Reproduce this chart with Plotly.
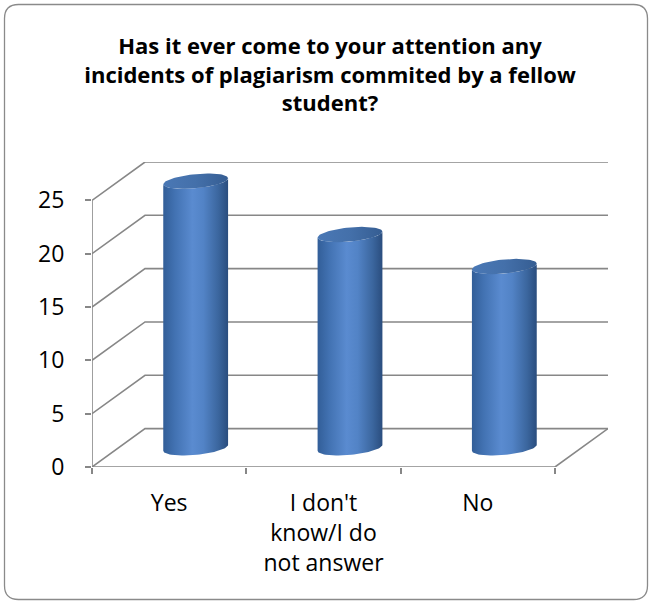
import numpy as np
import plotly.graph_objects as go

# ---------------- data ----------------
categories = ["Yes", "I don't know/I do not answer", "No"]
category_labels = ["Yes", "I don't<br>know/I do<br>not answer", "No"]
values = [25, 20, 17]
y_ticks = [0, 5, 10, 15, 20, 25]
title_text = ("<b>Has it ever come to your attention any<br>"
              "incidents of plagiarism commited by a fellow<br>student?</b>")

# ---------------- layout constants ----------------
W, H = 650, 603
L, R, T, B = 92, 42, 162, 136
N = len(categories)
Y_MAX = max(y_ticks)
DX = 0.3435      # depth offset (category units)
DY = 3.6         # depth offset (value units)
GRID = "#878787"
FONT = "Open Sans"

def px_x(p):
    return (p - L) / (W - L - R)

def px_y(p):
    return (H - B - p) / (H - T - B)

fig = go.Figure()

# back wall gridlines + left wall diagonals
for v in y_ticks:
    fig.add_trace(go.Scatter(
        x=[0, DX, N + DX], y=[v, v + DY, v + DY], mode="lines",
        line=dict(color=GRID, width=1.6), hoverinfo="skip", showlegend=False))

# front vertical axis, floor front edge and right floor edge
fig.add_trace(go.Scatter(
    x=[0, 0, N, N + DX], y=[Y_MAX, 0, 0, DY], mode="lines",
    line=dict(color=GRID, width=1.6), hoverinfo="skip", showlegend=False))

# cylinders
RX = 0.21
RY = 0.66
TILT = 0.28
body_scale = [[0, "#325e98"], [0.18, "#4272b2"], [0.45, "#5a8bd0"],
              [0.62, "#5283c6"], [0.85, "#3b669e"], [1, "#2a4d7e"]]
top_scale = [[0, "#4a78b5"], [0.5, "#4470aa"], [1, "#355d92"]]
for i, v in enumerate(values):
    cx = i + 0.5 + DX / 2
    y0 = DY / 2
    y1 = v + DY / 2
    tb = np.linspace(np.pi, 2 * np.pi, 40)
    xb = cx + RX * np.cos(tb)
    yb = y0 + RY * np.sin(tb) + TILT * np.cos(tb)
    tt = np.linspace(2 * np.pi, np.pi, 40)
    xt = cx + RX * np.cos(tt)
    yt = y1 + RY * np.sin(tt) + TILT * np.cos(tt)
    xs = np.concatenate([xb, xt, xb[:1]])
    ys = np.concatenate([yb, yt, yb[:1]])
    fig.add_trace(go.Scatter(
        x=xs, y=ys, mode="lines", fill="toself",
        line=dict(width=0, color="rgba(0,0,0,0)"),
        fillgradient=dict(type="horizontal", colorscale=body_scale),
        name=categories[i], hoverinfo="skip", showlegend=False))
    ta = np.linspace(0, 2 * np.pi, 80)
    fig.add_trace(go.Scatter(
        x=cx + RX * np.cos(ta),
        y=y1 + RY * np.sin(ta) + TILT * np.cos(ta),
        mode="lines", fill="toself",
        line=dict(width=0, color="rgba(0,0,0,0)"),
        fillgradient=dict(type="horizontal", colorscale=top_scale),
        hoverinfo="skip", showlegend=False))

# rounded chart border
bx0, bx1, by0, by1, rr = 4.5, 647.5, 4.5, 599.5, 14
pts = [
    ("M", bx0 + rr, by0), ("L", bx1 - rr, by0), ("Q", bx1, by0, bx1, by0 + rr),
    ("L", bx1, by1 - rr), ("Q", bx1, by1, bx1 - rr, by1),
    ("L", bx0 + rr, by1), ("Q", bx0, by1, bx0, by1 - rr),
    ("L", bx0, by0 + rr), ("Q", bx0, by0, bx0 + rr, by0),
]
path = ""
for p in pts:
    cmd = p[0]
    coords = p[1:]
    parts = []
    for k in range(0, len(coords), 2):
        parts.append(f"{px_x(coords[k]):.5f},{px_y(coords[k + 1]):.5f}")
    path += cmd + " ".join(parts) + " "
path += "Z"

fig.update_layout(
    width=W, height=H,
    margin=dict(l=L, r=R, t=T, b=B),
    paper_bgcolor="white", plot_bgcolor="white",
    font=dict(family=FONT, color="black"),
    title=dict(text=title_text, x=330 / W, xref="container", xanchor="center",
               y=1 - 54 / H, yref="container", yanchor="middle",
               font=dict(family=FONT, size=22, color="black")),
    showlegend=False,
    shapes=[dict(type="path", path=path, xref="paper", yref="paper",
                 line=dict(color="#8a8a8a", width=1.3), layer="below")],
    xaxis=dict(range=[0, N + DX], showgrid=False, zeroline=False, showline=False,
               tickvals=[i + 0.5 for i in range(N)], ticktext=category_labels,
               ticks="", tickfont=dict(family=FONT, size=23, color="black"),
               ticklabelstandoff=20, fixedrange=True),
    xaxis2=dict(range=[0, N + DX], overlaying="x", side="bottom", anchor="y",
                showgrid=False, zeroline=False, showline=False,
                tickvals=list(range(N + 1)), ticktext=[""] * (N + 1),
                ticks="outside", ticklen=6, tickwidth=1.6, tickcolor=GRID,
                fixedrange=True),
    yaxis=dict(range=[0, Y_MAX + DY], showgrid=False, zeroline=False, showline=False,
               tickvals=y_ticks, ticks="outside", ticklen=6, tickwidth=1.6,
               tickcolor=GRID, ticklabelstandoff=16,
               tickfont=dict(family=FONT, size=23, color="black"), fixedrange=True),
)

# dummy trace to activate xaxis2
fig.add_trace(go.Scatter(x=[0], y=[0], xaxis="x2", mode="markers",
                         marker=dict(opacity=0), hoverinfo="skip", showlegend=False))

fig.write_html("out.html", config={"displayModeBar": False},
               post_script="document.body.style.margin='0';")
